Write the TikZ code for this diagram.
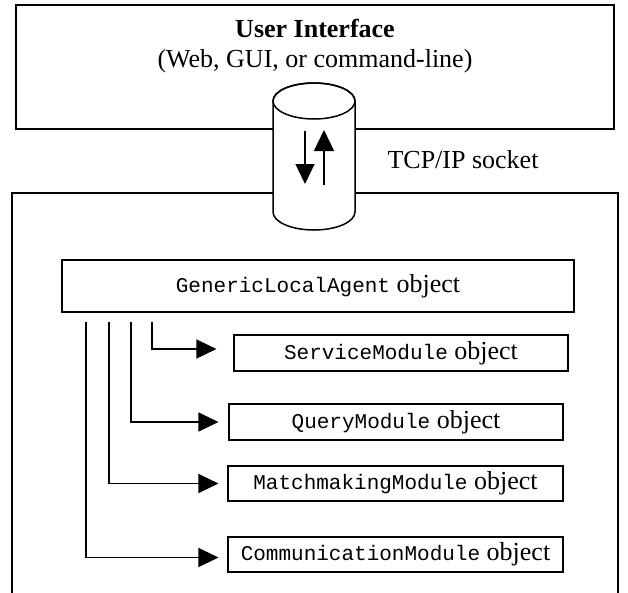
\documentclass[tikz,border=0pt]{standalone}
\usepackage{fontspec}
\setmainfont{Liberation Serif}
\setmonofont{Liberation Mono}
\usetikzlibrary{arrows.meta}
\begin{document}
\begin{tikzpicture}[x=1pt,y=-1pt,
  bigbox/.style={draw,line width=1.8pt,rectangle,inner sep=0pt},
  modbox/.style={draw,line width=1.1pt,rectangle,inner sep=0pt,fill=white,
     font=\fontsize{26}{28}\selectfont},
  conn/.style={line width=1.3pt,-{Triangle[length=20pt,width=19pt]}},
  serif/.style={font=\fontsize{26}{28}\selectfont},
  mono/.style={font=\fontsize{21}{24}\ttfamily}]
\useasboundingbox[fill=white] (0,0) rectangle (628,592);
% user interface box
\node[bigbox,minimum width=598pt,minimum height=124pt] (ui) at (315,67) {};
\node[serif,align=center] (uitext) at (315,46)
  {\textbf{User Interface}\\[2pt](Web, GUI, or command-line)};
% agent outer box (bottom edge beyond the page)
\node[bigbox,minimum width=606pt,minimum height=440pt,anchor=north] (agent) at (315,192) {};
% cylinder (socket)
\filldraw[fill=white,line width=1.5pt] (273,101) -- (273,212)
  arc[start angle=180,end angle=360,x radius=41pt,y radius=18pt] -- (355,101)
  arc[start angle=0,end angle=180,x radius=41pt,y radius=18pt] -- cycle;
\draw[line width=1.5pt] (314,101) ellipse[x radius=41pt,y radius=18pt];
\coordinate (da) at (305,131);
\coordinate (db) at (305,184);
\coordinate (ua) at (324,185);
\coordinate (ub) at (324,130);
\draw[line width=1.3pt,-{Triangle[length=20pt,width=19pt]}] (da) -- (db);
\draw[line width=1.3pt,-{Triangle[length=21pt,width=20pt]}] (ua) -- (ub);
\node[serif,anchor=west] (tcp) at (384,160) {TCP/IP socket};
% GenericLocalAgent
\node[bigbox,minimum width=512pt,minimum height=52pt,serif] (gla) at (318,286)
  {\texttt{\fontsize{21}{24}\selectfont GenericLocalAgent} object};
% modules
\node[modbox,minimum width=334pt,minimum height=36pt] (svc) at (401,353)
  {\texttt{\fontsize{21}{24}\selectfont ServiceModule} object};
\node[modbox,minimum width=334pt,minimum height=36pt] (qry) at (396,422)
  {\texttt{\fontsize{21}{24}\selectfont QueryModule} object};
\node[modbox,minimum width=335pt,minimum height=35pt] (mm) at (395.5,483.5)
  {\texttt{\fontsize{21}{24}\selectfont MatchmakingModule} object};
\node[modbox,minimum width=335pt,minimum height=35pt] (com) at (395.5,554.5)
  {\texttt{\fontsize{21}{24}\selectfont CommunicationModule} object};
% connectors
\coordinate (s1) at (152,322);
\coordinate (s2) at (131,322);
\coordinate (s3) at (109,322);
\coordinate (s4) at (86,322);
\draw[conn] (s1) |- ([xshift=-17pt,yshift=4pt]svc.west);
\draw[conn] (s2) |- ([xshift=-10pt]qry.west);
\draw[conn] (s3) |- ([xshift=-9pt]mm.west);
\draw[conn] (s4) |- ([xshift=-9pt,yshift=-3pt]com.west);
\end{tikzpicture}
\end{document}
